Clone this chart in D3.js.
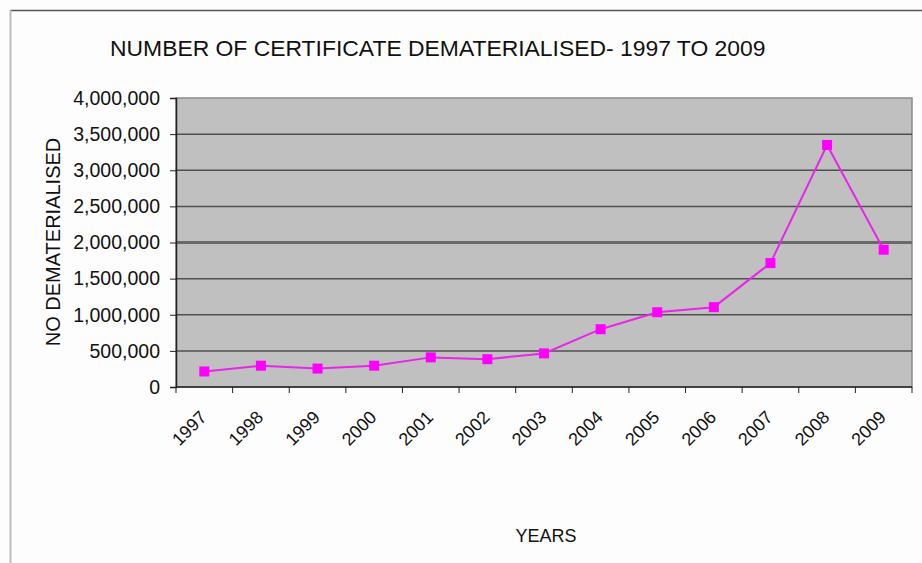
<!DOCTYPE html>
<html>
<head>
<meta charset="utf-8">
<script src="https://cdn.jsdelivr.net/npm/d3@7"></script>
<style>
  body { margin: 0; background: #fdfdfd; }
  svg { display: block; }
</style>
</head>
<body>
<script>
let w = 922;
let h = 563;

// data
const years = ["1997", "1998", "1999", "2000", "2001", "2002", "2003",
  "2004", "2005", "2006", "2007", "2008", "2009"];
const dematerialised = [215000, 295000, 255000, 295000, 410000, 385000, 465000,
  800000, 1035000, 1105000, 1715000, 3350000, 1900000];
const yTicks = [0, 500000, 1000000, 1500000, 2000000, 2500000, 3000000, 3500000, 4000000];

const plotLeft = 176, plotRight = 912, plotTop = 98, plotBottom = 387;

let svg = d3.select("body").append("svg").attr("width", w).attr("height", h);

// outer frame
svg.append("rect").attr("width", w).attr("height", h).attr("fill", "#fdfdfd");
svg.append("line")
  .attr("x1", 10).attr("x2", w).attr("y1", 10.5).attr("y2", 10.5)
  .attr("stroke", "#555").attr("stroke-width", 1.5);
svg.append("line")
  .attr("x1", 10.5).attr("x2", 10.5).attr("y1", 10).attr("y2", h)
  .attr("stroke", "#bbb").attr("stroke-width", 2);

const x = d3.scaleBand().domain(years).range([plotLeft, plotRight]).padding(0);
const y = d3.scaleLinear().domain([0, 4000000]).range([plotBottom, plotTop]);

// plot area
svg.append("rect")
  .attr("x", plotLeft).attr("y", plotTop)
  .attr("width", plotRight - plotLeft).attr("height", plotBottom - plotTop)
  .attr("fill", "#c0c0c0")
  .attr("stroke", "#8a8a8a").attr("stroke-width", 1.5);

// gridlines
svg.selectAll(".grid")
  .data(yTicks.filter(d => d > 0 && d < 4000000))
  .enter()
  .append("line")
  .attr("x1", plotLeft).attr("x2", plotRight)
  .attr("y1", d => y(d)).attr("y2", d => y(d))
  .attr("stroke", d => d === 2000000 ? "#6a6a6a" : "#505050")
  .attr("stroke-width", d => d === 2000000 ? 3 : 1.5);

// y axis
let yAxis = svg.append("g")
  .attr("transform", "translate(" + plotLeft + ",0)")
  .call(d3.axisLeft(y).tickValues(yTicks).tickFormat(d3.format(",")).tickSize(6).tickPadding(10));
yAxis.select(".domain").attr("stroke", "#222").attr("stroke-width", 1.5);
yAxis.selectAll(".tick line").attr("stroke", "#222");
yAxis.selectAll("text")
  .attr("font-family", "Liberation Sans, Arial, sans-serif")
  .attr("font-size", "19.5px")
  .attr("fill", "#111");

// x axis line and ticks at category boundaries
svg.append("line")
  .attr("x1", plotLeft).attr("x2", plotRight).attr("y1", plotBottom).attr("y2", plotBottom)
  .attr("stroke", "#222").attr("stroke-width", 1.5);
svg.selectAll(".xtick")
  .data(years.map(d => x(d)).concat([plotRight]))
  .enter()
  .append("line")
  .attr("x1", d => d).attr("x2", d => d)
  .attr("y1", plotBottom).attr("y2", plotBottom + 6)
  .attr("stroke", "#222");

svg.selectAll(".xlabel")
  .data(years)
  .enter()
  .append("text")
  .text(d => d)
  .attr("transform", d => "translate(" + (x(d) + x.bandwidth() / 2 - 1) + "," + (plotBottom + 27) + ") rotate(-45)")
  .attr("text-anchor", "end")
  .attr("dy", ".35em")
  .attr("font-family", "Liberation Sans, Arial, sans-serif")
  .attr("font-size", "18px")
  .attr("fill", "#111");

// line and markers
const lineFunc = d3.line()
  .x((d, i) => x(years[i]) + x.bandwidth() / 2)
  .y(d => y(d))
  .curve(d3.curveLinear);

svg.append("path")
  .attr("d", lineFunc(dematerialised))
  .attr("stroke", "#e826e8")
  .attr("stroke-width", 2)
  .attr("fill", "none");

svg.selectAll(".marker")
  .data(dematerialised)
  .enter()
  .append("rect")
  .attr("x", (d, i) => x(years[i]) + x.bandwidth() / 2 - 5)
  .attr("y", d => y(d) - 5)
  .attr("width", 10).attr("height", 10)
  .attr("fill", "#ff00ff");

// titles
svg.append("text")
  .text("NUMBER OF CERTIFICATE DEMATERIALISED- 1997 TO 2009")
  .attr("x", 110).attr("y", 56)
  .attr("font-family", "Liberation Sans, Arial, sans-serif")
  .attr("font-size", "22.9px")
  .attr("fill", "#111");

svg.append("text")
  .text("NO DEMATERIALISED")
  .attr("transform", "translate(60,242) rotate(-90)")
  .attr("text-anchor", "middle")
  .attr("font-family", "Liberation Sans, Arial, sans-serif")
  .attr("font-size", "20px")
  .attr("fill", "#111");

svg.append("text")
  .text("YEARS")
  .attr("x", 546).attr("y", 542)
  .attr("text-anchor", "middle")
  .attr("font-family", "Liberation Sans, Arial, sans-serif")
  .attr("font-size", "18px")
  .attr("fill", "#111");
</script>
</body>
</html>
